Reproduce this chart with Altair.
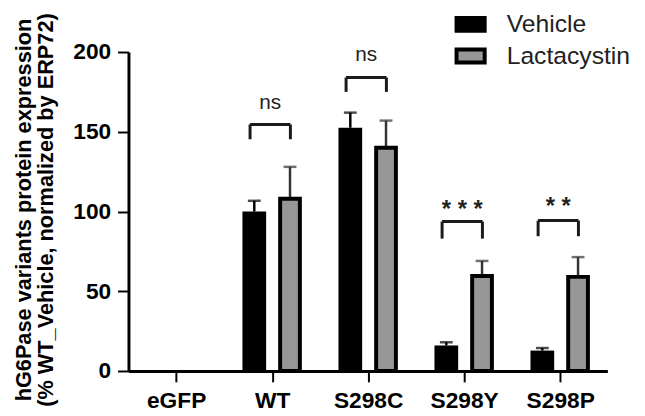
import json
import altair as alt
import pandas as pd

# ---- data ----
groups = ["eGFP", "WT", "S298C", "S298Y", "S298P"]
treatments = ["Vehicle", "Lactacystin"]
vehicle_mean = [0, 100, 152.5, 16, 12.8]
vehicle_upper = [0, 106.7, 162, 18, 14.4]
lact_mean = [0, 108, 140, 59.5, 59]
lact_upper = [0, 128, 157, 69, 71.4]

sig_groups = ["WT", "S298C", "S298Y", "S298P"]
sig_labels = ["ns", "ns", "* * *", "* *"]
bracket_top = [154.6, 184, 93.7, 94.3]
bracket_leg = [145.3, 175, 83, 84.5]
label_base = [164, 194.4, 96.6, 98.2]

# ---- layout constants ----
FONT = "Liberation Sans"
XMIN, XMAX = -0.445, 4.44
OFF = 0.186
BR_L, BR_R = -0.23, 0.19

rows = []
for i, g in enumerate(groups):
    for t, m, u, o in (("Vehicle", vehicle_mean[i], vehicle_upper[i], -OFF),
                       ("Lactacystin", lact_mean[i], lact_upper[i], OFF)):
        if m > 0:
            rows.append(dict(group=g, treatment=t, pos=i + o, mean=m, upper=u))
df = pd.DataFrame(rows)

seg_rows, lab_rows = [], []
for g, lab, top, leg, yb in zip(sig_groups, sig_labels, bracket_top, bracket_leg, label_base):
    i = groups.index(g)
    l, r = i + BR_L, i + BR_R
    seg_rows += [dict(x=l, x2=r, y=top, y2=top),
                 dict(x=l, x2=l, y=leg, y2=top),
                 dict(x=r, x2=r, y=leg, y2=top)]
    lab_rows.append(dict(x=(l + r) / 2, y=yb, label=lab, kind="ns" if lab == "ns" else "star"))
seg_df = pd.DataFrame(seg_rows)
lab_df = pd.DataFrame(lab_rows)

x_scale = alt.Scale(domain=[XMIN, XMAX], nice=False, zero=False)
y_scale = alt.Scale(domain=[0, 200], nice=False, zero=True)

x_axis = alt.Axis(
    values=list(range(len(groups))),
    labelExpr=json.dumps(groups) + "[datum.value]",
    title=None, grid=False,
    domainColor="black", domainWidth=3,
    tickColor="black", tickWidth=2, tickSize=11,
    labelFont=FONT, labelFontSize=23, labelFontWeight="bold", labelColor="black",
    labelPadding=8,
)
y_axis = alt.Axis(
    values=[0, 50, 100, 150, 200],
    title=["hG6Pase variants protein expression", "(% WT_Vehicle, normalized by ERP72)"],
    titleFont=FONT, titleFontSize=22, titleFontWeight="bold", titleColor="black",
    titleAngle=270, titleAlign="center", titleBaseline="alphabetic",
    titleX=-99.5, titleY=159.5, titleLineHeight=23,
    grid=False,
    domainColor="black", domainWidth=3,
    tickColor="black", tickWidth=2, tickSize=11,
    labelFont=FONT, labelFontSize=23, labelFontWeight="bold", labelColor="black",
    labelPadding=7,
)

X = lambda f: alt.X(f, type="quantitative", scale=x_scale, axis=x_axis)
Y = lambda f: alt.Y(f, type="quantitative", scale=y_scale, axis=y_axis)

fill_enc = alt.Fill(
    "treatment:N",
    scale=alt.Scale(domain=treatments, range=["#000000", "#979797"]),
    title=None,
    legend=alt.Legend(
        orient="none", legendX=330, legendY=-44.5, direction="vertical",
        symbolType="M-1,-0.46L1,-0.46L1,0.46L-1,0.46Z", symbolSize=812,
        symbolStrokeColor="black", symbolStrokeWidth=4,
        labelFont=FONT, labelFontSize=25, labelColor="#222222",
        labelOffset=20, rowPadding=0,
    ),
)

base = alt.Chart(df)
veh = base.transform_filter("datum.treatment == 'Vehicle'")
lac = base.transform_filter("datum.treatment == 'Lactacystin'")

veh_err = veh.mark_rule(strokeWidth=2.5, color="black").encode(x=X("pos"), y=Y("mean"), y2="upper")
lac_err = lac.mark_rule(strokeWidth=2.5, color="#333333").encode(x=X("pos"), y=Y("mean"), y2="upper")
veh_cap = veh.mark_tick(orient="horizontal", size=13, thickness=2.5, color="black").encode(x=X("pos"), y=Y("upper"))
lac_cap = lac.mark_tick(orient="horizontal", size=13, thickness=2.5, color="#333333").encode(x=X("pos"), y=Y("upper"))

veh_bars = veh.mark_bar(size=24).encode(x=X("pos"), y=Y("mean"), fill=fill_enc)
lact_bars = lac.mark_bar(size=20, stroke="black", strokeWidth=4).encode(x=X("pos"), y=Y("mean"), fill=fill_enc)

brackets = alt.Chart(seg_df).mark_rule(strokeWidth=3, color="#1a1a1a").encode(
    x=X("x"), x2="x2", y=Y("y"), y2="y2",
)
ns_text = alt.Chart(lab_df).transform_filter("datum.kind == 'ns'").mark_text(
    font=FONT, fontSize=21, color="#222222", baseline="alphabetic", align="center"
).encode(x=X("x"), y=Y("y"), text="label:N")
star_text = alt.Chart(lab_df).transform_filter("datum.kind == 'star'").mark_text(
    font=FONT, fontSize=24, fontWeight="bold", color="#222222", baseline="alphabetic", align="center"
).encode(x=X("x"), y=Y("y"), text="label:N")

chart = alt.layer(veh_err, lac_err, veh_cap, lac_cap, veh_bars, lact_bars, brackets, ns_text, star_text).properties(
    width=485, height=323,
    autosize=alt.AutoSizeParams(type="none"),
    padding={"left": 122, "top": 42, "right": 30, "bottom": 43},
).configure_view(strokeWidth=0)

chart.save("out.html", embed_options={"renderer": "svg", "actions": False})
